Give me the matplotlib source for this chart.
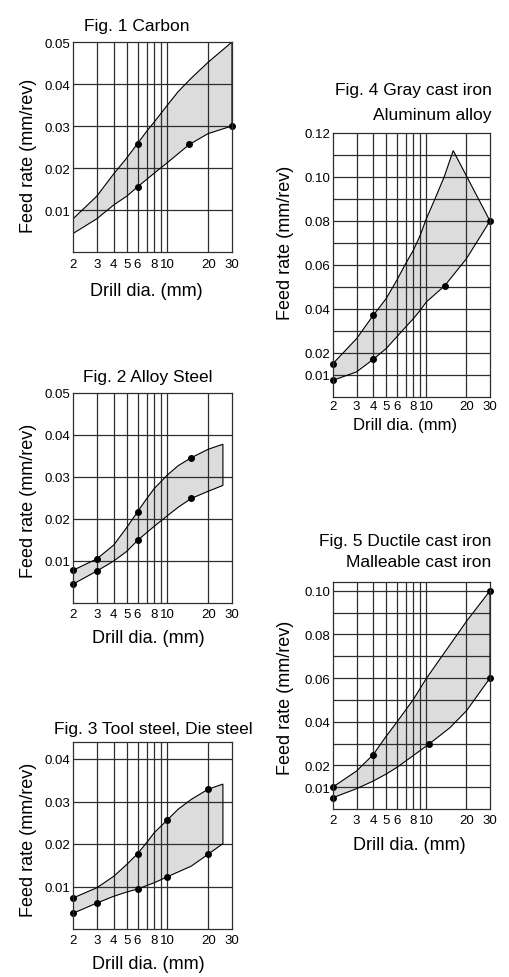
import matplotlib
matplotlib.use('Agg')
import matplotlib.pyplot as plt

# DATA
carbon_hi_x = [2, 3, 4, 5, 6, 7, 8, 10, 12, 15, 20, 30]
carbon_hi_y = [0.0079, 0.0133, 0.0186, 0.0224, 0.0258, 0.0287, 0.0310, 0.0350, 0.0382, 0.0414, 0.0452, 0.0500]
carbon_lo_x = [2, 3, 4, 5, 6, 8, 10, 14.5, 20, 30]
carbon_lo_y = [0.0044, 0.0079, 0.0112, 0.0133, 0.0155, 0.0188, 0.0213, 0.0256, 0.0282, 0.0300]
carbon_dot_x = [6, 6, 14.5, 30]
carbon_dot_y = [0.0258, 0.0155, 0.0256, 0.0300]

alloy_hi_x = [2, 3, 4, 5, 6, 7, 8, 10, 12, 15, 20, 25.7]
alloy_hi_y = [0.0078, 0.0105, 0.0138, 0.0180, 0.0217, 0.0248, 0.0273, 0.0305, 0.0327, 0.0346, 0.0366, 0.0378]
alloy_lo_x = [2, 3, 4, 5, 6, 8, 10, 12, 15, 20, 25.7]
alloy_lo_y = [0.0045, 0.0076, 0.0100, 0.0123, 0.0149, 0.0183, 0.0208, 0.0228, 0.0249, 0.0266, 0.0280]
alloy_dot_x = [2, 2, 3, 3, 6, 6, 15, 15]
alloy_dot_y = [0.0078, 0.0045, 0.0105, 0.0076, 0.0217, 0.0149, 0.0346, 0.0249]

tool_hi_x = [2, 3, 4, 5, 6, 7, 8, 10, 12, 15, 20, 25.7]
tool_hi_y = [0.0073, 0.0097, 0.0124, 0.0152, 0.0177, 0.0203, 0.0227, 0.0257, 0.0282, 0.0305, 0.0329, 0.0341]
tool_lo_x = [2, 3, 4, 5, 6, 8, 10, 15, 20, 25.7]
tool_lo_y = [0.0037, 0.0061, 0.0077, 0.0087, 0.0094, 0.0109, 0.0123, 0.0148, 0.0176, 0.0201]
tool_dot_x = [2, 2, 3, 6, 6, 10, 10, 20, 20]
tool_dot_y = [0.0073, 0.0037, 0.0061, 0.0177, 0.0094, 0.0257, 0.0123, 0.0329, 0.0176]

gray_hi_x = [2, 3, 4, 5, 6, 7, 8, 9, 10, 11.6, 13.6, 15.9, 30]
gray_hi_y = [0.0152, 0.0265, 0.0371, 0.0447, 0.0530, 0.0606, 0.0667, 0.0735, 0.0810, 0.0900, 0.1000, 0.1120, 0.0800]
gray_lo_x = [2, 3, 4, 5, 6, 7, 8, 9, 10, 13.7, 20, 30]
gray_lo_y = [0.0076, 0.0114, 0.0171, 0.0220, 0.0273, 0.0318, 0.0356, 0.0394, 0.0432, 0.0505, 0.0629, 0.0800]
gray_dot_x = [2, 2, 4, 4, 13.7, 30]
gray_dot_y = [0.0152, 0.0076, 0.0371, 0.0171, 0.0505, 0.0800]

ductile_hi_x = [2, 3, 4, 5, 6, 8, 10, 20, 30]
ductile_hi_y = [0.0101, 0.0174, 0.0249, 0.0333, 0.0397, 0.0502, 0.0598, 0.0860, 0.1000]
ductile_lo_x = [2, 3, 4, 5, 6, 8, 10.5, 15, 20, 30]
ductile_lo_y = [0.0052, 0.0093, 0.0128, 0.0160, 0.0190, 0.0245, 0.0298, 0.0372, 0.0450, 0.0600]
ductile_dot_x = [2, 2, 4, 10.5, 30, 30]
ductile_dot_y = [0.0101, 0.0052, 0.0249, 0.0298, 0.1000, 0.0600]

drill_ticks = [2, 3, 4, 5, 6, 8, 10, 20, 30]
drill_grid = [3, 4, 5, 6, 7, 8, 9, 10, 20]

W, H = 509, 978
plt.rcParams['font.family'] = ['Liberation Sans', 'DejaVu Sans']
fig = plt.figure(figsize=(W / 100, H / 100), dpi=100)

GRID = '#2e2e2e'


def add_panel(left, right, top, bottom):
    return fig.add_axes([left / W, 1 - bottom / H, (right - left) / W, (bottom - top) / H])


def ftext(x, y, s, **kw):
    fig.text(x / W, 1 - y / H, s, **kw)


def draw_band(ax, hi_x, hi_y, lo_x, lo_y, dot_x, dot_y, ymax, yticks, ylabels, hgrid, xpad=3.5):
    ax.set_xscale('log')
    ax.set_xlim(2, 30)
    ax.set_ylim(0, ymax)

    # shaded band + outline
    px = list(hi_x) + list(lo_x[::-1])
    py = list(hi_y) + list(lo_y[::-1])
    ax.fill(px, py, facecolor='#dcdcdc', edgecolor='none', zorder=1)
    ax.fill(px, py, facecolor='none', edgecolor='black', lw=0.8, zorder=3)
    ax.plot(dot_x, dot_y, 'o', color='black', ms=4, zorder=4, clip_on=False)

    # grid
    for gx in drill_grid:
        ax.axvline(gx, color=GRID, lw=0.9, zorder=2)
    for gy in hgrid:
        ax.axhline(gy, color=GRID, lw=0.9, zorder=2)

    ax.set_xticks(drill_ticks)
    ax.set_xticklabels([str(t) for t in drill_ticks])
    ax.xaxis.set_minor_locator(matplotlib.ticker.NullLocator())
    ax.set_yticks(yticks)
    ax.set_yticklabels(ylabels)
    ax.tick_params(axis='x', length=0, pad=xpad, labelsize=9.5)
    ax.tick_params(axis='y', length=0, pad=2, labelsize=9.5)
    for sp in ax.spines.values():
        sp.set_color(GRID)
        sp.set_linewidth(0.9)
        sp.set_zorder(5)


# Fig. 1 Carbon
ax1 = add_panel(73, 232, 43, 253)
draw_band(ax1, carbon_hi_x, carbon_hi_y, carbon_lo_x, carbon_lo_y, carbon_dot_x, carbon_dot_y,
          0.05, [0.01, 0.02, 0.03, 0.04, 0.05], ['0.01', '0.02', '0.03', '0.04', '0.05'],
          [0.01, 0.02, 0.03, 0.04], xpad=4.5)
ftext(137, 30.7, 'Fig. 1 Carbon', ha='center', va='baseline', fontsize=12.5)
ftext(29, 156, 'Feed rate (mm/rev)', ha='center', va='center', rotation=90, fontsize=13)
ftext(146, 296, 'Drill dia. (mm)', ha='center', va='baseline', fontsize=13)

# Fig. 2 Alloy Steel
ax2 = add_panel(73, 232, 394, 604)
draw_band(ax2, alloy_hi_x, alloy_hi_y, alloy_lo_x, alloy_lo_y, alloy_dot_x, alloy_dot_y,
          0.05, [0.01, 0.02, 0.03, 0.04, 0.05], ['0.01', '0.02', '0.03', '0.04', '0.05'],
          [0.01, 0.02, 0.03, 0.04])
ftext(148, 381.7, 'Fig. 2 Alloy Steel', ha='center', va='baseline', fontsize=12.5)
ftext(29, 501, 'Feed rate (mm/rev)', ha='center', va='center', rotation=90, fontsize=13)
ftext(148, 643, 'Drill dia. (mm)', ha='center', va='baseline', fontsize=13)

# Fig. 3 Tool steel, Die steel
ax3 = add_panel(73, 232, 743, 930)
draw_band(ax3, tool_hi_x, tool_hi_y, tool_lo_x, tool_lo_y, tool_dot_x, tool_dot_y,
          0.044, [0.01, 0.02, 0.03, 0.04], ['0.01', '0.02', '0.03', '0.04'],
          [0.01, 0.02, 0.03, 0.04])
ftext(153, 734, 'Fig. 3 Tool steel, Die steel', ha='center', va='baseline', fontsize=12.5)
ftext(29, 840, 'Feed rate (mm/rev)', ha='center', va='center', rotation=90, fontsize=13)
ftext(148, 969, 'Drill dia. (mm)', ha='center', va='baseline', fontsize=13)

# Fig. 4 Gray cast iron / Aluminum alloy
ax4 = add_panel(333, 490, 134, 398)
draw_band(ax4, gray_hi_x, gray_hi_y, gray_lo_x, gray_lo_y, gray_dot_x, gray_dot_y,
          0.12, [0.01, 0.02, 0.04, 0.06, 0.08, 0.10, 0.12],
          ['0.01', '0.02', '0.04', '0.06', '0.08', '0.10', '0.12'],
          [0.01 * i for i in range(1, 12)], xpad=2)
ftext(491.7, 95, 'Fig. 4 Gray cast iron', ha='right', va='baseline', fontsize=12.5)
ftext(491.7, 120, 'Aluminum alloy', ha='right', va='baseline', fontsize=12.5)
ftext(286, 243, 'Feed rate (mm/rev)', ha='center', va='center', rotation=90, fontsize=13)
ftext(405, 430, 'Drill dia. (mm)', ha='center', va='baseline', fontsize=12)

# Fig. 5 Ductile cast iron / Malleable cast iron
ax5 = add_panel(333, 490, 583, 810)
draw_band(ax5, ductile_hi_x, ductile_hi_y, ductile_lo_x, ductile_lo_y, ductile_dot_x, ductile_dot_y,
          0.104, [0.01, 0.02, 0.04, 0.06, 0.08, 0.10],
          ['0.01', '0.02', '0.04', '0.06', '0.08', '0.10'],
          [0.01 * i for i in range(1, 11)])
ftext(491.7, 545.7, 'Fig. 5 Ductile cast iron', ha='right', va='baseline', fontsize=12.5)
ftext(491.7, 567.3, 'Malleable cast iron', ha='right', va='baseline', fontsize=12.5)
ftext(286, 698, 'Feed rate (mm/rev)', ha='center', va='center', rotation=90, fontsize=13)
ftext(409, 850, 'Drill dia. (mm)', ha='center', va='baseline', fontsize=13)

plt.savefig('out.png', dpi=100, facecolor='white')
